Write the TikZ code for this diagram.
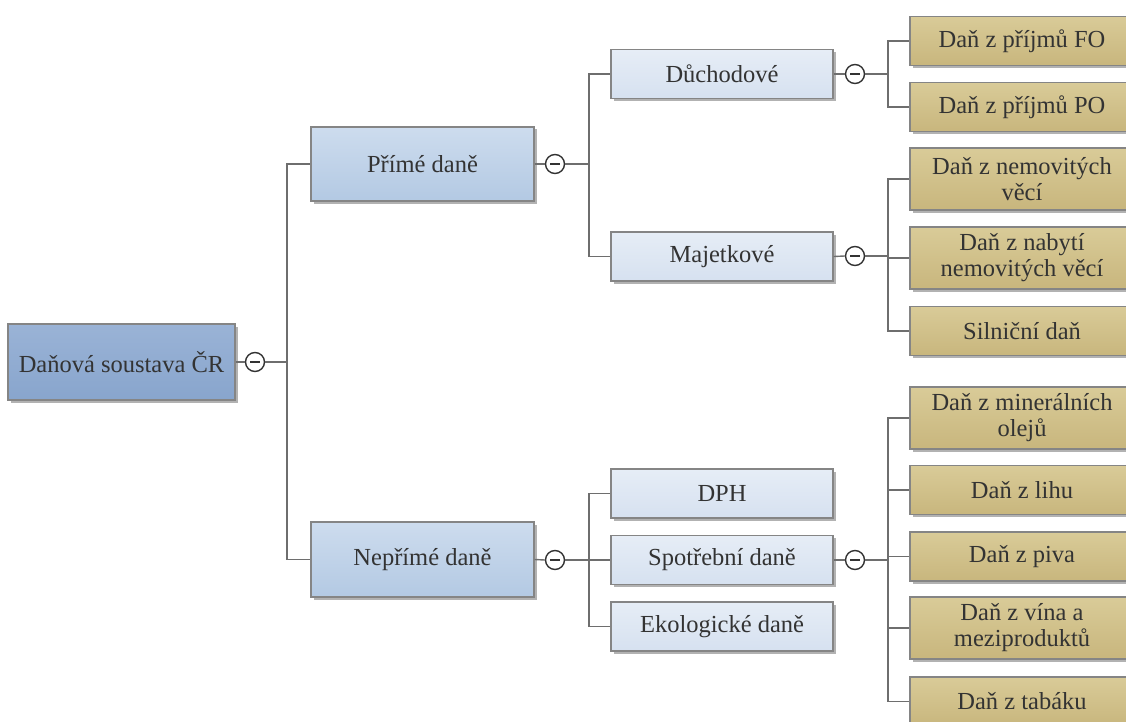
\documentclass[tikz,border=0pt]{standalone}
\usepackage{fontspec}
\setmainfont{Liberation Serif}
\usetikzlibrary{
  shadows,
  positioning,
}
\definecolor{boxline}{HTML}{858585}
\definecolor{txt}{HTML}{333333}
\definecolor{wire}{HTML}{6E6E6E}
\definecolor{rootA}{HTML}{9AB3D6}
\definecolor{rootB}{HTML}{88A5CD}
\definecolor{mainA}{HTML}{CDDCEE}
\definecolor{mainB}{HTML}{B3C9E3}
\definecolor{subA}{HTML}{E6EDF6}
\definecolor{subB}{HTML}{D6E1F0}
\definecolor{leafA}{HTML}{D9CB98}
\definecolor{leafB}{HTML}{C8B67D}
\tikzset{
  box/.style={
    rectangle,
    draw=boxline,
    line width=1.3pt,
    text=txt,
    align=center,
    inner sep=2pt,
    font=\rmfamily\fontsize{24.5}{26}\selectfont,
    drop shadow={shadow xshift=2.5pt, shadow yshift=-2.5pt,
      opacity=0.3, fill=black},
  },
  rootbox/.style={
    box,
    top color=rootA,
    bottom color=rootB,
    minimum width=227pt,
    minimum height=76pt,
  },
  mainbox/.style={
    box,
    top color=mainA,
    bottom color=mainB,
    minimum width=223pt,
    minimum height=74pt,
  },
  subbox/.style={
    box,
    top color=subA,
    bottom color=subB,
    minimum width=222pt,
    minimum height=49pt,
  },
  leafbox/.style={
    box,
    top color=leafA,
    bottom color=leafB,
    minimum width=224pt,
    minimum height=49pt,
  },
  tall/.style={
    minimum height=62pt,
  },
  toggle/.style={
    circle,
    draw=txt,
    fill=white,
    line width=1.4pt,
    minimum size=19pt,
    inner sep=0pt,
    path picture={
      \draw[txt, line width=1.4pt]
      ([xshift=-5pt]path picture bounding box.center) --
      ([xshift=5pt]path picture bounding box.center);
    },
  },
  link/.style={
    draw=wire,
    line width=1.4pt,
  },
}

\begin{document}
\begin{tikzpicture}[x=1pt, y=-1pt]

  \useasboundingbox (0,0) rectangle (1126,722);
  \clip (0,0) rectangle (1126,722);

  % Root
  \node (root) [rootbox] at (121.5,362) {Daňová soustava ČR};
  \node (t0) [toggle] at (255,362) {};
  \coordinate (j0) at (287,362);

  % Direct / indirect
  \node (prime) [mainbox] at (422.5,164) {Přímé daně};
  \node (neprime) [mainbox, minimum height=75pt] at (422.5,559.5) {Nepřímé daně};
  \node (t1) [toggle] at (555,164) {};
  \node (t2) [toggle] at (555,560) {};
  \coordinate (j1) at (589,164);
  \coordinate (j2) at (589,560);

  % Second level
  \node (duch) [subbox] at (722,74) {Důchodové};
  \node (maj) [subbox] at (722,256.5) {Majetkové};
  \node (dph) [subbox] at (722,493.5) {DPH};
  \node (spotr) [subbox] at (722,560) {Spotřební daně};
  \node (ekol) [subbox] at (722,626.5) {Ekologické daně};
  \node (t3) [toggle] at (855,74) {};
  \node (t4) [toggle] at (855,256) {};
  \node (t5) [toggle] at (855,560) {};
  \coordinate (j3) at (888,74);
  \coordinate (j4) at (888,256);
  \coordinate (j5) at (888,560);

  % Leaves
  \node (fo) [leafbox] at (1022,41) {Daň z příjmů FO};
  \node (po) [leafbox] at (1022,107) {Daň z příjmů PO};
  \node (nem) [leafbox, tall] at (1022,179) {Daň z nemovitých\\věcí};
  \node (nab) [leafbox, tall] at (1022,258) {Daň z nabytí\\nemovitých věcí};
  \node (siln) [leafbox] at (1022,331) {Silniční daň};
  \node (miner) [leafbox, tall] at (1022,418) {Daň z minerálních\\olejů};
  \node (lih) [leafbox] at (1022,490) {Daň z lihu};
  \node (piv) [leafbox] at (1022,556.5) {Daň z piva};
  \node (vin) [leafbox, tall] at (1022,628) {Daň z vína a\\meziproduktů};
  \node (tab) [leafbox] at (1022,701.5) {Daň z tabáku};

  % Connectors
  \draw [link] (root.east) -- (t0.west);
  \draw [link] (t0.east) -- (j0);
  \draw [link] (j0) |- (prime.west);
  \draw [link] (j0) |- (neprime.west);

  \draw [link] (prime.east) -- (t1.west);
  \draw [link] (t1.east) -- (j1);
  \draw [link] (j1) |- (duch.west);
  \draw [link] (j1) |- (maj.west);

  \draw [link] (neprime.east) -- (t2.west);
  \draw [link] (t2.east) -- (j2);
  \draw [link] (j2) |- (dph.west);
  \draw [link] (j2) -- (spotr.west);
  \draw [link] (j2) |- (ekol.west);

  \draw [link] (duch.east) -- (t3.west);
  \draw [link] (t3.east) -- (j3);
  \draw [link] (j3) |- (fo.west);
  \draw [link] (j3) |- (po.west);

  \draw [link] (maj.east) -- (t4.west);
  \draw [link] (t4.east) -- (j4);
  \draw [link] (j4) |- (nem.west);
  \draw [link] (j4) |- (nab.west);
  \draw [link] (j4) |- (siln.west);

  \draw [link] (spotr.east) -- (t5.west);
  \draw [link] (t5.east) -- (j5);
  \draw [link] (j5) |- (miner.west);
  \draw [link] (j5) |- (lih.west);
  \draw [link] (j5) |- (piv.west);
  \draw [link] (j5) |- (vin.west);
  \draw [link] (j5) |- (tab.west);

\end{tikzpicture}
\end{document}
